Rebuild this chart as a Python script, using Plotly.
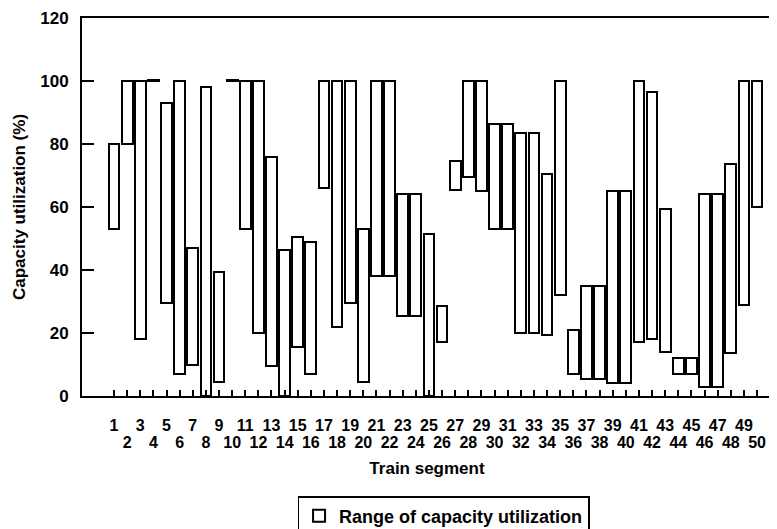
import numpy as np
import plotly.graph_objects as go

# ---- data ----
segments = list(range(1, 51))
low = [53, 80, 18, 100, 29.5, 7, 10, 0, 4.5, 100,
       53, 20, 9.5, 0, 15.5, 7, 66, 22, 29.5, 4.5,
       38, 38, 25.5, 25.5, 0, 17, 65.5, 69.5, 65, 53,
       53, 20, 20, 19.5, 32, 7, 5.5, 5.5, 4, 4,
       17, 18, 14, 7, 7, 3, 3, 13.5, 29, 60]
high = [80, 100, 100, 100, 93, 100, 47, 98, 39.5, 100,
        100, 100, 76, 46.5, 50.5, 49, 100, 100, 100, 53,
        100, 100, 64, 64, 51.5, 28.5, 74.5, 100, 100, 86.5,
        86.5, 83.5, 83.5, 70.5, 100, 21, 35, 35, 65, 65,
        100, 96.5, 59.5, 12, 12, 64, 64, 73.5, 100, 100]
tick_labels = [str(s) for s in segments]
y_ticks = [0, 20, 40, 60, 80, 100, 120]

FONT = "Liberation Sans, Arial, sans-serif"
BLACK = "#000000"

low_a = np.array(low, dtype=float)
high_a = np.array(high, dtype=float)
# zero-range segments still drawn as a flat outline
span = np.maximum(high_a - low_a, 0.25)

odd_x = [s for s in segments if s % 2 == 1]
even_x = [s for s in segments if s % 2 == 0]
odd_t = [tick_labels[s - 1] for s in odd_x]
even_t = [tick_labels[s - 1] for s in even_x]

x_range = [-1.44, 51.14]

fig = go.Figure()
fig.add_trace(go.Bar(
    x=segments, y=span, base=low_a, width=0.82,
    marker=dict(color="white", line=dict(color=BLACK, width=2)),
    name="Range of capacity utilization",
    hoverinfo="skip",
))
# invisible carrier for the second row of tick labels
fig.add_trace(go.Scatter(
    x=even_x, y=[high[s - 1] for s in even_x], xaxis="x2",
    mode="markers", marker=dict(opacity=0), showlegend=False, hoverinfo="skip",
))

tick_font = dict(family=FONT, size=16, color=BLACK, weight="bold")

# the page body has an 8px default margin, so the figure is sized to fit the window
fig.update_layout(
    width=769, height=521,
    margin=dict(l=74, r=5, t=10, b=133, autoexpand=False),
    paper_bgcolor="white", plot_bgcolor="white",
    showlegend=True,
    bargap=0,
    xaxis=dict(
        range=x_range, tickmode="array", tickvals=odd_x, ticktext=odd_t,
        ticks="inside", ticklen=6, tickwidth=1.5, tickcolor=BLACK,
        showline=True, linewidth=2, linecolor=BLACK, mirror=True,
        showgrid=False, zeroline=False, tickangle=0, automargin=False,
        tickfont=tick_font, ticklabelstandoff=14,
    ),
    xaxis2=dict(
        range=x_range, overlaying="x", anchor="y", side="bottom",
        tickmode="array", tickvals=even_x, ticktext=even_t,
        ticks="inside", ticklen=6, tickwidth=1.5, tickcolor=BLACK,
        showline=False, showgrid=False, zeroline=False, tickangle=0,
        automargin=False,
        tickfont=tick_font, ticklabelstandoff=35,
        title=dict(text="Train segment", standoff=12,
                   font=dict(family=FONT, size=17, color=BLACK, weight="bold")),
    ),
    yaxis=dict(
        range=[0, 120], tickmode="array", tickvals=y_ticks,
        ticks="inside", ticklen=12, tickwidth=1.5, tickcolor=BLACK,
        showline=True, linewidth=2, linecolor=BLACK,
        showgrid=False, zeroline=False, automargin=False,
        tickfont=dict(family=FONT, size=17, color=BLACK, weight="bold"),
        ticklabelstandoff=8,
        title=dict(text="Capacity utilization (%)", standoff=10,
                   font=dict(family=FONT, size=17, color=BLACK, weight="bold")),
    ),
    legend=dict(
        orientation="h", x=0.524, xanchor="center", y=-0.2646, yanchor="top",
        bordercolor=BLACK, borderwidth=1.5, bgcolor="white",
        font=dict(family=FONT, size=18, color=BLACK, weight="bold"),
    ),
)

fig.write_html("out.html")
